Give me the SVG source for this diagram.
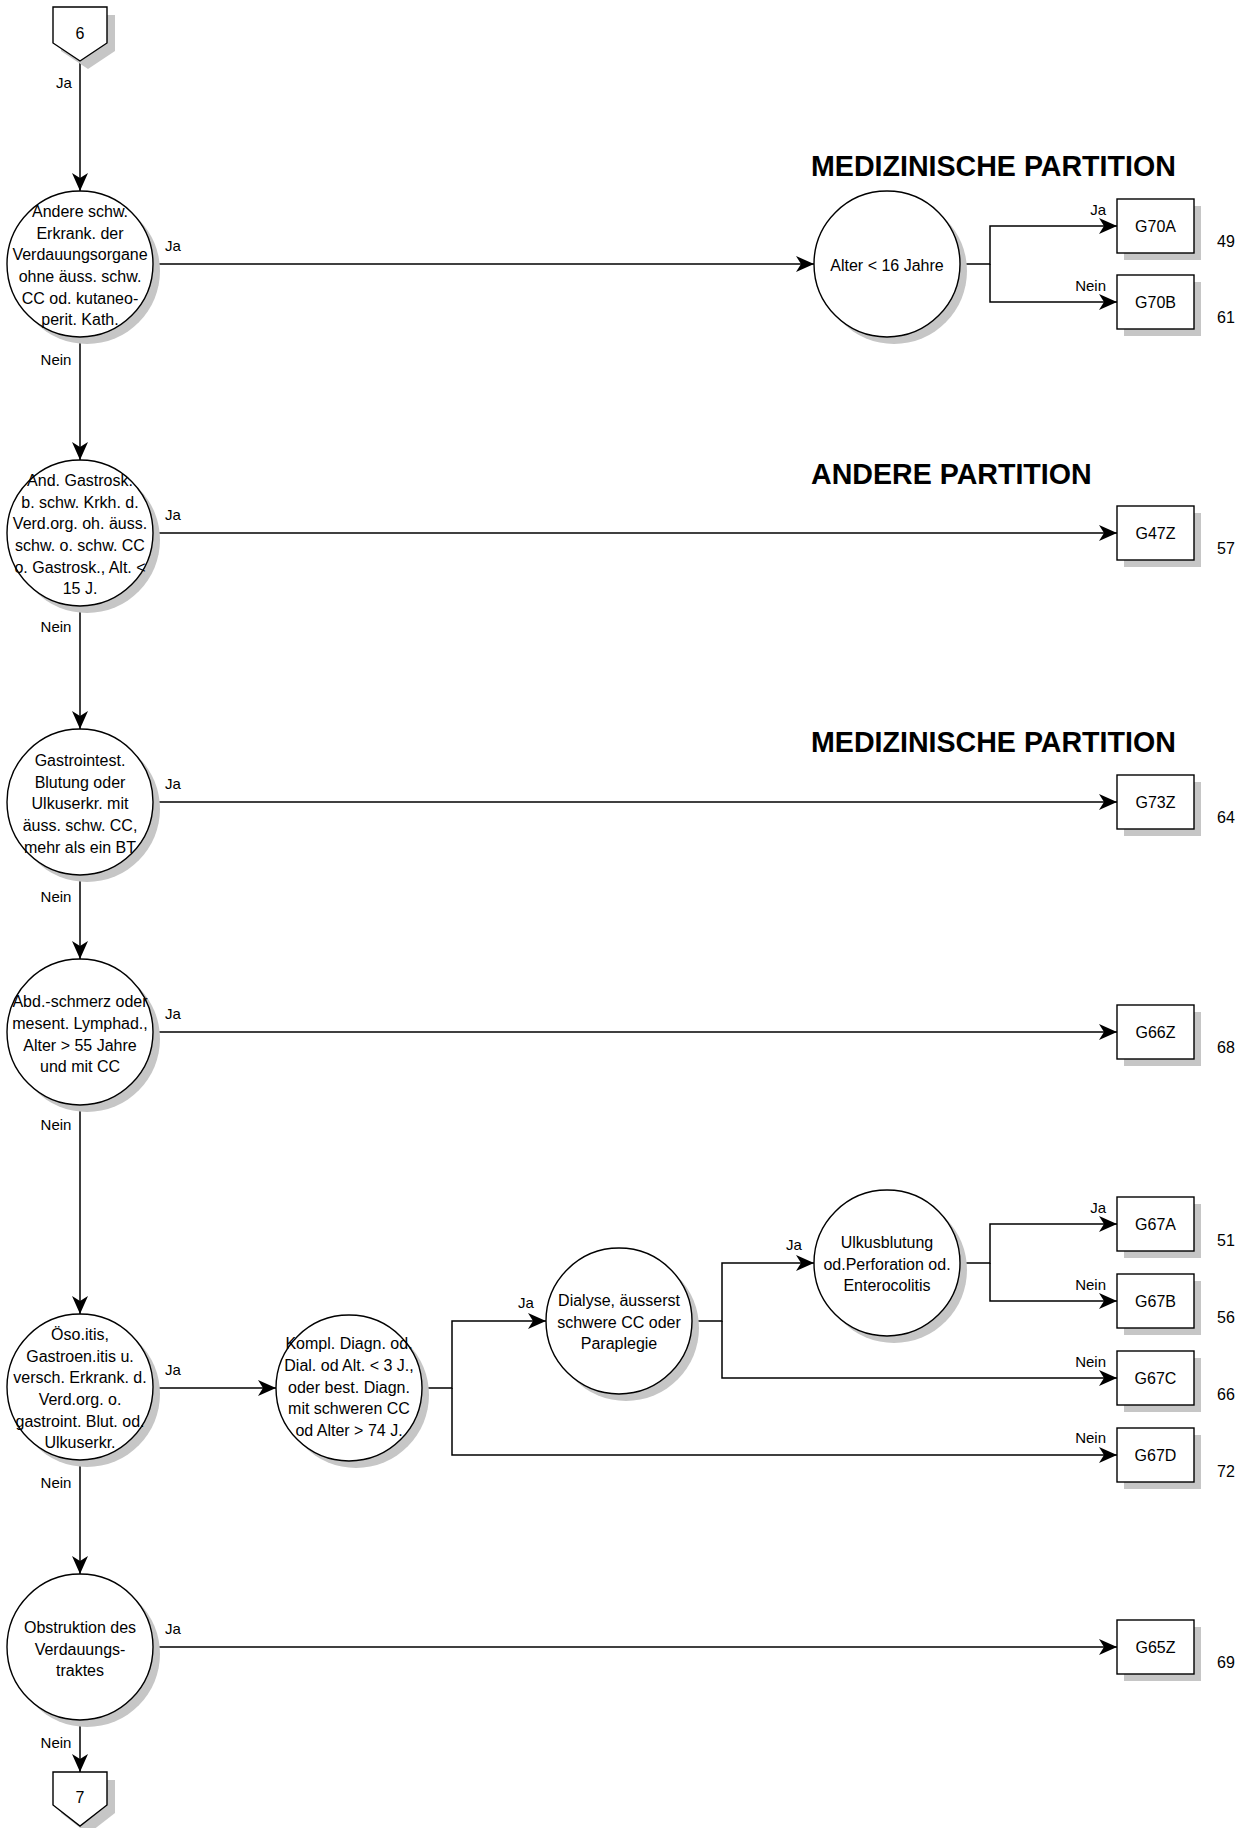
<svg xmlns="http://www.w3.org/2000/svg" width="1248" height="1828" viewBox="0 0 1248 1828">
<style>
text{font-family:"Liberation Sans",Arial,sans-serif;fill:#000}
.t{font-size:16px;text-anchor:middle}
.l{font-size:15px}
.lm{font-size:15px;text-anchor:middle}
.le{font-size:15px;text-anchor:end}
.n{font-size:16px}
.h{font-size:28.6px;font-weight:bold}
.sh{fill:#c6c6c6;stroke:none}
.nd{fill:#fff;stroke:#000;stroke-width:1.4}
.c{fill:none;stroke:#000;stroke-width:1.5}
.a{marker-end:url(#arr)}
</style>
<defs>
<marker id="arr" viewBox="-19 -9 20 18" refX="0" refY="0" markerWidth="20" markerHeight="18" markerUnits="userSpaceOnUse" orient="auto">
<path d="M0,0 L-18,-8 L-13,0 L-18,8 Z" fill="#000"/>
</marker>
</defs>
<rect width="1248" height="1828" fill="#fff"/>

<g id="headers">
<text class="h" x="811" y="176">MEDIZINISCHE PARTITION</text>
<text class="h" x="811" y="484">ANDERE PARTITION</text>
<text class="h" x="811" y="752">MEDIZINISCHE PARTITION</text>
</g>

<g id="connectors">
<path class="c a" d="M80,61 V191"/>
<path class="c a" d="M80,337 V460"/>
<path class="c a" d="M80,606 V729"/>
<path class="c a" d="M80,875 V959"/>
<path class="c a" d="M80,1105 V1314"/>
<path class="c a" d="M80,1460 V1574"/>
<path class="c a" d="M80,1720 V1772"/>
<path class="c a" d="M153,264 H814"/>
<path class="c a" d="M960,264 H990 V226 H1117"/>
<path class="c a" d="M990,264 V302 H1117"/>
<path class="c a" d="M153,533 H1117"/>
<path class="c a" d="M153,802 H1117"/>
<path class="c a" d="M153,1032 H1117"/>
<path class="c a" d="M153,1388 H276"/>
<path class="c a" d="M422,1388 H452 V1321 H546"/>
<path class="c a" d="M452,1388 V1455 H1117"/>
<path class="c a" d="M692,1321 H722 V1263 H814"/>
<path class="c a" d="M722,1321 V1378 H1117"/>
<path class="c a" d="M960,1263 H990 V1224 H1117"/>
<path class="c a" d="M990,1263 V1301 H1117"/>
<path class="c a" d="M153,1647 H1117"/>
<text class="l" x="56" y="88">Ja</text>
<text class="lm" x="56" y="365">Nein</text>
<text class="lm" x="56" y="632">Nein</text>
<text class="lm" x="56" y="902">Nein</text>
<text class="lm" x="56" y="1130">Nein</text>
<text class="lm" x="56" y="1488">Nein</text>
<text class="lm" x="56" y="1748">Nein</text>
<text class="l" x="165" y="251">Ja</text>
<text class="l" x="165" y="520">Ja</text>
<text class="l" x="165" y="789">Ja</text>
<text class="l" x="165" y="1019">Ja</text>
<text class="l" x="165" y="1375">Ja</text>
<text class="l" x="165" y="1634">Ja</text>
<text class="le" x="1106" y="215">Ja</text>
<text class="le" x="1106" y="291">Nein</text>
<text class="lm" x="526" y="1308">Ja</text>
<text class="lm" x="794" y="1250">Ja</text>
<text class="le" x="1106" y="1213">Ja</text>
<text class="le" x="1106" y="1290">Nein</text>
<text class="le" x="1106" y="1367">Nein</text>
<text class="le" x="1106" y="1443">Nein</text>
</g>

<g id="conn6">
<path class="sh" d="M61,15 H115 V51 L88,69 L61,51 Z"/>
<path class="nd" d="M53,7 H107 V43 L80,61 L53,43 Z"/>
<text class="t" x="80" y="39">6</text>
</g>

<g id="conn7">
<path class="sh" d="M61,1780 H115 V1813 L88,1834 L61,1813 Z"/>
<path class="nd" d="M53,1772 H107 V1805 L80,1826 L53,1805 Z"/>
<text class="t" x="80" y="1803">7</text>
</g>

<g id="q1">
<circle class="sh" cx="87" cy="271" r="73"/>
<circle class="nd" cx="80" cy="264" r="73"/>
<text class="t" x="80" y="217">Andere schw.</text>
<text class="t" x="80" y="239">Erkrank. der</text>
<text class="t" x="80" y="260">Verdauungsorgane</text>
<text class="t" x="80" y="282">ohne äuss. schw.</text>
<text class="t" x="80" y="304">CC od. kutaneo-</text>
<text class="t" x="80" y="325">perit. Kath.</text>
</g>

<g id="q2">
<circle class="sh" cx="87" cy="540" r="73"/>
<circle class="nd" cx="80" cy="533" r="73"/>
<text class="t" x="80" y="486">And. Gastrosk.</text>
<text class="t" x="80" y="508">b. schw. Krkh. d.</text>
<text class="t" x="80" y="529">Verd.org. oh. äuss.</text>
<text class="t" x="80" y="551">schw. o. schw. CC</text>
<text class="t" x="80" y="573">o. Gastrosk., Alt. &lt;</text>
<text class="t" x="80" y="594">15 J.</text>
</g>

<g id="q3">
<circle class="sh" cx="87" cy="809" r="73"/>
<circle class="nd" cx="80" cy="802" r="73"/>
<text class="t" x="80" y="766">Gastrointest.</text>
<text class="t" x="80" y="788">Blutung oder</text>
<text class="t" x="80" y="809">Ulkuserkr. mit</text>
<text class="t" x="80" y="831">äuss. schw. CC,</text>
<text class="t" x="80" y="853">mehr als ein BT</text>
</g>

<g id="q4">
<circle class="sh" cx="87" cy="1039" r="73"/>
<circle class="nd" cx="80" cy="1032" r="73"/>
<text class="t" x="80" y="1007">Abd.-schmerz oder</text>
<text class="t" x="80" y="1029">mesent. Lymphad.,</text>
<text class="t" x="80" y="1051">Alter &gt; 55 Jahre</text>
<text class="t" x="80" y="1072">und mit CC</text>
</g>

<g id="q5">
<circle class="sh" cx="87" cy="1394" r="73"/>
<circle class="nd" cx="80" cy="1387" r="73"/>
<text class="t" x="80" y="1340">Öso.itis,</text>
<text class="t" x="80" y="1362">Gastroen.itis u.</text>
<text class="t" x="80" y="1383">versch. Erkrank. d.</text>
<text class="t" x="80" y="1405">Verd.org. o.</text>
<text class="t" x="80" y="1427">gastroint. Blut. od.</text>
<text class="t" x="80" y="1448">Ulkuserkr.</text>
</g>

<g id="q6">
<circle class="sh" cx="87" cy="1654" r="73"/>
<circle class="nd" cx="80" cy="1647" r="73"/>
<text class="t" x="80" y="1633">Obstruktion des</text>
<text class="t" x="80" y="1655">Verdauungs-</text>
<text class="t" x="80" y="1676">traktes</text>
</g>

<g id="qAlter">
<circle class="sh" cx="894" cy="271" r="73"/>
<circle class="nd" cx="887" cy="264" r="73"/>
<text class="t" x="887" y="271">Alter &lt; 16 Jahre</text>
</g>

<g id="qKompl">
<circle class="sh" cx="356" cy="1395" r="73"/>
<circle class="nd" cx="349" cy="1388" r="73"/>
<text class="t" x="349" y="1349">Kompl. Diagn. od.</text>
<text class="t" x="349" y="1371">Dial. od Alt. &lt; 3 J.,</text>
<text class="t" x="349" y="1393">oder best. Diagn.</text>
<text class="t" x="349" y="1414">mit schweren CC</text>
<text class="t" x="349" y="1436">od Alter &gt; 74 J.</text>
</g>

<g id="qDialyse">
<circle class="sh" cx="626" cy="1328" r="73"/>
<circle class="nd" cx="619" cy="1321" r="73"/>
<text class="t" x="619" y="1306">Dialyse, äusserst</text>
<text class="t" x="619" y="1328">schwere CC oder</text>
<text class="t" x="619" y="1349">Paraplegie</text>
</g>

<g id="qUlkus">
<circle class="sh" cx="894" cy="1270" r="73"/>
<circle class="nd" cx="887" cy="1263" r="73"/>
<text class="t" x="887" y="1248">Ulkusblutung</text>
<text class="t" x="887" y="1270">od.Perforation od.</text>
<text class="t" x="887" y="1291">Enterocolitis</text>
</g>

<g id="G70A">
<rect class="sh" x="1124" y="206" width="77" height="54"/>
<rect class="nd" x="1117" y="199" width="77" height="54"/>
<text class="t" x="1155.5" y="232">G70A</text>
<text class="n" x="1217" y="247">49</text>
</g>
<g id="G70B">
<rect class="sh" x="1124" y="282" width="77" height="54"/>
<rect class="nd" x="1117" y="275" width="77" height="54"/>
<text class="t" x="1155.5" y="308">G70B</text>
<text class="n" x="1217" y="323">61</text>
</g>
<g id="G47Z">
<rect class="sh" x="1124" y="513" width="77" height="54"/>
<rect class="nd" x="1117" y="506" width="77" height="54"/>
<text class="t" x="1155.5" y="539">G47Z</text>
<text class="n" x="1217" y="554">57</text>
</g>
<g id="G73Z">
<rect class="sh" x="1124" y="782" width="77" height="54"/>
<rect class="nd" x="1117" y="775" width="77" height="54"/>
<text class="t" x="1155.5" y="808">G73Z</text>
<text class="n" x="1217" y="823">64</text>
</g>
<g id="G66Z">
<rect class="sh" x="1124" y="1012" width="77" height="54"/>
<rect class="nd" x="1117" y="1005" width="77" height="54"/>
<text class="t" x="1155.5" y="1038">G66Z</text>
<text class="n" x="1217" y="1053">68</text>
</g>
<g id="G67A">
<rect class="sh" x="1124" y="1204" width="77" height="54"/>
<rect class="nd" x="1117" y="1197" width="77" height="54"/>
<text class="t" x="1155.5" y="1230">G67A</text>
<text class="n" x="1217" y="1246">51</text>
</g>
<g id="G67B">
<rect class="sh" x="1124" y="1281" width="77" height="54"/>
<rect class="nd" x="1117" y="1274" width="77" height="54"/>
<text class="t" x="1155.5" y="1307">G67B</text>
<text class="n" x="1217" y="1323">56</text>
</g>
<g id="G67C">
<rect class="sh" x="1124" y="1358" width="77" height="54"/>
<rect class="nd" x="1117" y="1351" width="77" height="54"/>
<text class="t" x="1155.5" y="1384">G67C</text>
<text class="n" x="1217" y="1400">66</text>
</g>
<g id="G67D">
<rect class="sh" x="1124" y="1435" width="77" height="54"/>
<rect class="nd" x="1117" y="1428" width="77" height="54"/>
<text class="t" x="1155.5" y="1461">G67D</text>
<text class="n" x="1217" y="1477">72</text>
</g>
<g id="G65Z">
<rect class="sh" x="1124" y="1627" width="77" height="54"/>
<rect class="nd" x="1117" y="1620" width="77" height="54"/>
<text class="t" x="1155.5" y="1653">G65Z</text>
<text class="n" x="1217" y="1668">69</text>
</g>
</svg>
